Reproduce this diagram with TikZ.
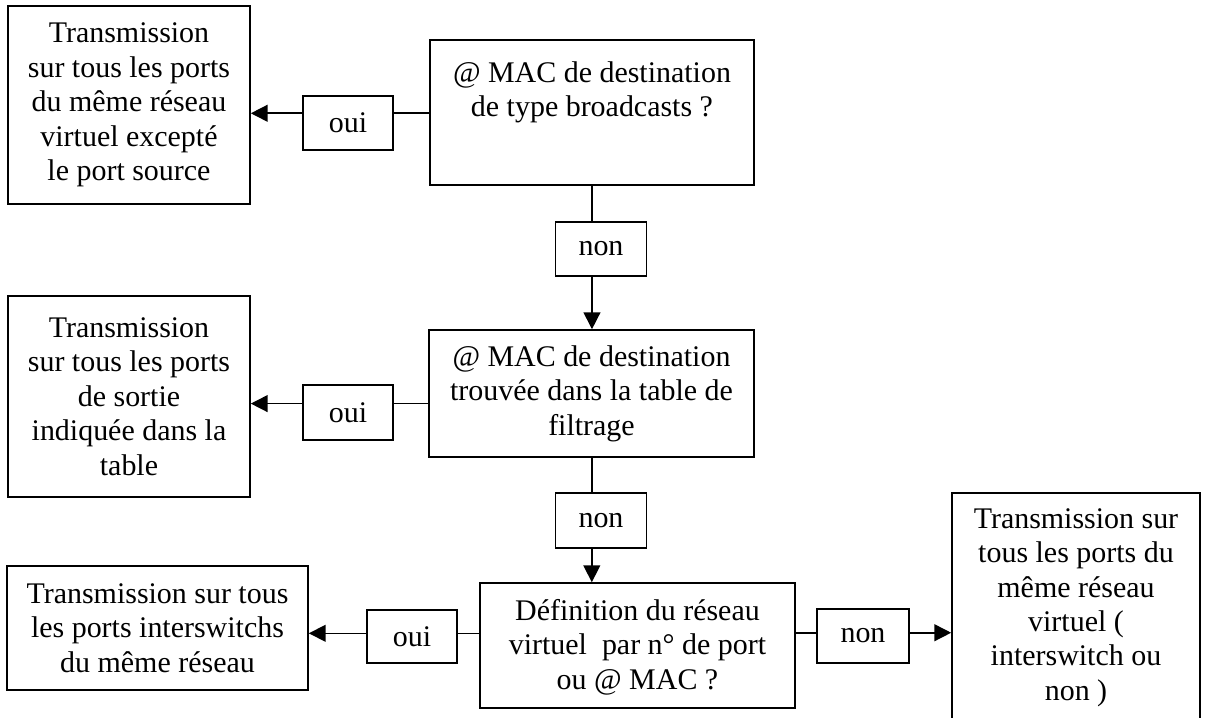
\documentclass[tikz,border=0pt]{standalone}
\usepackage{fontspec}
\setmainfont{Liberation Serif}
\usetikzlibrary{arrows.meta}
\begin{document}
\begin{tikzpicture}[x=0.025cm,y=-0.025cm,line width=1.1pt,
  font=\fontsize{21.3}{24.5}\selectfont,
  box/.style={draw,rectangle,align=center,inner sep=0pt},
  arr/.style={-{Triangle[length=12pt,width=12pt]}}]
\useasboundingbox (0,0) rectangle (1206,718);
\node[box,minimum width=6.05cm,minimum height=4.95cm] (bA) at (129,105) {Transmission\\sur tous les ports\\du même réseau\\virtuel excepté\\le port source};
\node[box,minimum width=2.25cm,minimum height=1.35cm] (o1) at (348,123) {oui};
\node[box,minimum width=8.1cm,minimum height=3.625cm] (d1) at (592,112.5) {@ MAC de destination\\de type broadcasts ?\\[0.3cm]\mbox{}};
\node[box,minimum width=2.275cm,minimum height=1.35cm] (n1) at (601,249) {non};
\node[box,minimum width=8.125cm,minimum height=3.175cm] (d2) at (591.5,393.5) {@ MAC de destination\\trouvée dans la table de\\filtrage};
\node[box,minimum width=2.25cm,minimum height=1.375cm] (o2) at (348,412.5) {oui};
\node[box,minimum width=6.05cm,minimum height=5.025cm] (bB) at (129,396.5) {Transmission\\sur tous les ports\\de sortie\\indiquée dans la\\table};
\node[box,minimum width=2.275cm,minimum height=1.375cm] (n2) at (601,520.5) {non};
\node[box,minimum width=7.875cm,minimum height=3.125cm] (d3) at (637.5,645.5) {\mbox{}\\[-0.25cm]Définition du réseau\\virtuel \ par n° de port\\ou @ MAC ?};
\node[box,minimum width=2.25cm,minimum height=1.325cm] (o3) at (412,636.5) {oui};
\node[box,minimum width=7.525cm,minimum height=3.1cm] (bC) at (157.5,628) {Transmission sur tous\\les ports interswitchs\\du même réseau};
\node[box,minimum width=2.3cm,minimum height=1.35cm] (n3) at (863,636) {non};
\node[box,minimum width=6.2cm,minimum height=5.725cm] (bD) at (1076,607.5) {Transmission sur\\tous les ports du\\même réseau\\virtuel (\\interswitch ou\\non )};
\draw (d1.west |- o1.12) -- (o1.12);
\draw[arr] (o1.168) -- (bA.east |- o1.168);
\draw (n1.108 |- d1.south) -- (n1.108);
\draw[arr] (n1.252) -- (n1.252 |- d2.north);
\draw (d2.west |- o2.11) -- (o2.11);
\draw[arr] (o2.169) -- (bB.east |- o2.169);
\draw (n2.108 |- d2.south) -- (n2.108);
\draw[arr] (n2.252) -- (n2.252 |- d3.north);
\draw (d3.west |- o3.4) -- (o3.4);
\draw[arr] (o3.176) -- (bC.east |- o3.176);
\draw (d3.east |- n3.176) -- (n3.176);
\draw[arr] (n3.4) -- (bD.west |- n3.4);
\end{tikzpicture}
\end{document}
